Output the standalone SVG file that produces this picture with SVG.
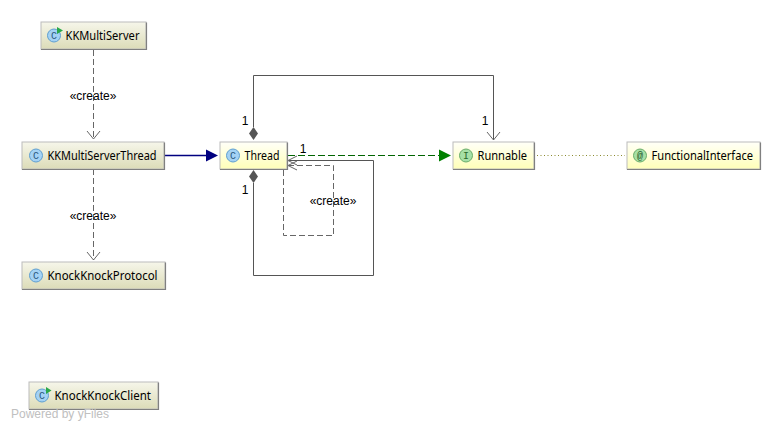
<svg xmlns="http://www.w3.org/2000/svg" width="781" height="430" viewBox="0 0 781 430">
<style>
text{font-family:"Noto Sans","DejaVu Sans","Liberation Sans",sans-serif;font-size:12px;fill:#000}
.n{stroke:#bcbcbc;stroke-width:1}
.s{fill:none;stroke:#808080;stroke-width:1.200}
.y{fill:url(#gy)}.g{fill:url(#gg)}
.c{fill:#a4d2f4;stroke:#5f9fd0}
.i{fill:#a6e0a6;stroke:#6aad6a}
.ct{font-family:"Liberation Mono",monospace;font-size:10px;text-anchor:middle;fill:#2a5a80}
.l{fill:none;stroke:#555;stroke-width:1}
.d{fill:none;stroke:#666;stroke-width:1;stroke-dasharray:6 3}
.o{fill:none;stroke:#666;stroke-width:1}
.dm{fill:#555}
.lb{font-family:"Liberation Sans",Arial,sans-serif;font-size:12px}
</style>
<defs>
<linearGradient id="gy" x1="0" y1="0" x2="0" y2="1"><stop offset="0" stop-color="#fffff8"/><stop offset="1" stop-color="#ffffb8"/></linearGradient>
<linearGradient id="gg" x1="0" y1="0" x2="0" y2="1"><stop offset="0" stop-color="#f6f6ea"/><stop offset="1" stop-color="#dcdcb8"/></linearGradient>
</defs>
<rect width="781" height="430" fill="#fff"/>
<g id="connectors">
<path class="d" d="M93.500 50V139"/>
<path class="o" d="M87 131L93.500 139L100 131"/>
<path class="d" d="M93.500 169V260"/>
<path class="o" d="M87 252L93.500 260L100 252"/>
<path d="M165 155.500H207" fill="none" stroke="#000080" stroke-width="1.300"/>
<path d="M206 149.500L218 155.500L206 161.500Z" fill="#000080"/>
<path d="M288 155.500H440" fill="none" stroke="#006400" stroke-width="1" stroke-dasharray="7 3"/>
<path d="M439 149.500L451 155.500L439 161.500Z" fill="#008000"/>
<path d="M537 155.500H625" fill="none" stroke="#8a8a30" stroke-width="1" stroke-dasharray="1 2.500"/>
<path class="l" d="M253.500 127V75.500H493.500V140"/>
<path class="o" d="M487 132L493.500 140L500 132"/>
<path class="dm" d="M253.500 127L258 133.500L253.500 140L249 133.500Z"/>
<path class="l" d="M253.500 183V275.500H373.500V160.500H289"/>
<path class="o" d="M297 156L288 160.500L297 165"/>
<path class="dm" d="M253.500 170L258 176.500L253.500 183L249 176.500Z"/>
<path class="d" d="M283.500 170V235.500H333.500V165.500H289"/>
<path class="o" d="M297 161L288 165.500L297 170"/>
</g>
<g id="labels">
<text class="lb" x="93" y="100" text-anchor="middle">«create»</text>
<text class="lb" x="93" y="220" text-anchor="middle">«create»</text>
<text class="lb" x="333" y="205" text-anchor="middle">«create»</text>
<text class="lb" x="245" y="125" text-anchor="middle">1</text>
<text class="lb" x="245" y="194" text-anchor="middle">1</text>
<text class="lb" x="303" y="153" text-anchor="middle">1</text>
<text class="lb" x="485" y="125" text-anchor="middle">1</text>
</g>
<g id="KKMultiServer">
<rect x="41" y="22" width="105" height="27" class="n g"/><path class="s" d="M146.500 22.500V49.500H41"/>
<circle cx="54" cy="35.500" r="6.500" class="c"/><text class="ct" x="54" y="39">C</text><path d="M57 27L63 30.500L57 34Z" fill="#2aa84a"/>
<text x="65.500" y="40" textLength="74" lengthAdjust="spacingAndGlyphs">KKMultiServer</text>
</g>
<g id="KKMultiServerThread">
<rect x="22" y="142" width="142" height="27" class="n g"/><path class="s" d="M164.500 142.500V169.500H22"/>
<circle cx="36" cy="155.500" r="6.500" class="c"/><text class="ct" x="36" y="159">C</text>
<text x="47.500" y="160" textLength="109" lengthAdjust="spacingAndGlyphs">KKMultiServerThread</text>
</g>
<g id="Thread">
<rect x="220" y="142" width="67" height="27" class="n y"/><path class="s" d="M287.500 142.500V169.500H220"/>
<circle cx="233" cy="155.500" r="6.500" class="c"/><text class="ct" x="233" y="159">C</text>
<text x="244.500" y="160" textLength="35" lengthAdjust="spacingAndGlyphs">Thread</text>
</g>
<g id="Runnable">
<rect x="453" y="142" width="81" height="27" class="n y"/><path class="s" d="M534.500 142.500V169.500H453"/>
<circle cx="466" cy="155.500" r="6.500" class="i"/><text class="ct" x="466" y="159" style="fill:#2a6a2a">I</text>
<text x="477.500" y="160" textLength="49.500" lengthAdjust="spacingAndGlyphs">Runnable</text>
</g>
<g id="FunctionalInterface">
<rect x="627" y="142" width="133" height="27" class="n y"/><path class="s" d="M760.500 142.500V169.500H627"/>
<circle cx="640" cy="155.500" r="6.500" class="i"/><text class="ct" x="640" y="159" style="fill:#1f5a2a">@</text>
<text x="651.500" y="160" textLength="101.500" lengthAdjust="spacingAndGlyphs">FunctionalInterface</text>
</g>
<g id="KnockKnockProtocol">
<rect x="22" y="262" width="143" height="27" class="n g"/><path class="s" d="M165.500 262.500V289.500H22"/>
<circle cx="36" cy="275.500" r="6.500" class="c"/><text class="ct" x="36" y="279">C</text>
<text x="47.500" y="280" textLength="110" lengthAdjust="spacingAndGlyphs">KnockKnockProtocol</text>
</g>
<g id="KnockKnockClient">
<rect x="29" y="382" width="129" height="27" class="n g"/><path class="s" d="M158.500 382.500V409.500H29"/>
<circle cx="42" cy="395.500" r="6.500" class="c"/><text class="ct" x="42" y="399">C</text><path d="M46 387L51.500 390.500L46 394Z" fill="#2aa84a"/>
<text x="54.500" y="400" textLength="96.500" lengthAdjust="spacingAndGlyphs">KnockKnockClient</text>
</g>
<text x="11" y="418" style="font-family:'Liberation Sans',Arial,sans-serif;font-size:12px;fill:#c0c0c0">Powered by yFiles</text>
</svg>
